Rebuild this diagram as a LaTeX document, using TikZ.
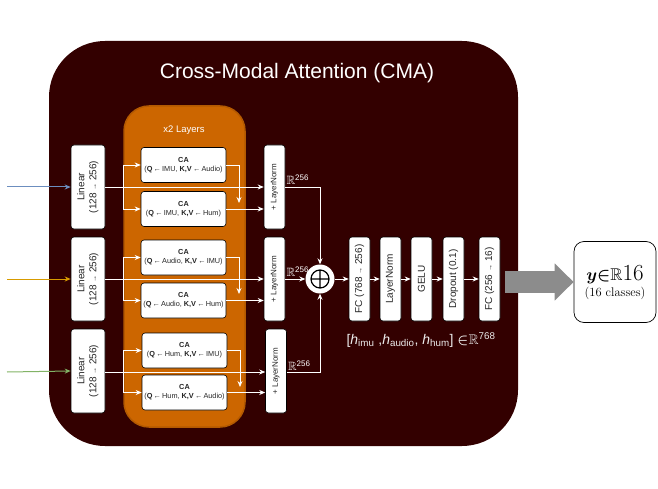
\documentclass[tikz,border=0pt]{standalone}
\usepackage{amsfonts,amssymb,amsmath}
\usepackage{xcolor}
\usepackage{fontspec}
\setsansfont{Liberation Sans}
\usepackage{tikz}
\usetikzlibrary{arrows.meta}
\definecolor{cmabg}{HTML}{330000}
\definecolor{layerfill}{HTML}{CC6600}
\definecolor{layerline}{HTML}{B35900}
\definecolor{imucol}{HTML}{6C8EBF}
\definecolor{audiocol}{HTML}{D79B00}
\definecolor{humcol}{HTML}{82B366}
\definecolor{boxtxt}{HTML}{262626}
\definecolor{arrowgray}{HTML}{8C8C8C}

\begin{document}
\begin{tikzpicture}[x=1pt,y=-1pt,font=\sffamily,>={Stealth[length=6pt,width=5pt]},
  blk/.style={draw=black,fill=white,rounded corners=3pt,text=boxtxt,inner sep=0pt,line width=0.6pt},
  linbox/.style={blk,minimum width=34pt,minimum height=84pt,font=\sffamily\fontsize{10}{12}\selectfont},
  lnbox/.style={blk,minimum width=21pt,minimum height=84pt,font=\sffamily\fontsize{8}{9}\selectfont},
  mlpbox/.style={blk,minimum width=21pt,minimum height=84pt,font=\sffamily\fontsize{10}{12}\selectfont},
  cabox/.style={blk,minimum width=85pt,minimum height=35pt,align=center,font=\sffamily\fontsize{7.3}{9}\selectfont},
  flow/.style={white,line width=0.8pt},
  rlbl/.style={text=white,inner sep=1pt,font=\sffamily\fontsize{12}{13}\selectfont}]
\useasboundingbox(0,0)rectangle(658,489);
% background blocks
\node[fill=cmabg,rounded corners=56pt,minimum width=469pt,minimum height=405pt](cma)at(283.5,243.5){};
\node[text=white,font=\sffamily\fontsize{21}{24}\selectfont](title)at(297,73){Cross-Modal Attention (CMA)};
\node[fill=layerfill,draw=layerline,line width=1.5pt,rounded corners=25pt,minimum width=121pt,minimum height=321pt](layers)at(184.5,266.5){};
\node[text=white,font=\sffamily\fontsize{9.5}{11}\selectfont](xtwo)at(184,130){x2 Layers};
% linear projections
\node[linbox](lin1)at(88,187){\rotatebox{90}{\begin{tabular}{@{}c@{}}Linear\\(128 {\scriptsize →} 256)\end{tabular}}};
\node[linbox](lin2)at(88,279){\rotatebox{90}{\begin{tabular}{@{}c@{}}Linear\\(128 {\scriptsize →} 256)\end{tabular}}};
\node[linbox](lin3)at(88,371){\rotatebox{90}{\begin{tabular}{@{}c@{}}Linear\\(128 {\scriptsize →} 256)\end{tabular}}};
% cross attention blocks
\node[cabox](ca1)at(183.5,165){\textbf{CA}\\(\textbf{Q}\,←\,IMU, \textbf{K,V}\,←\,Audio)};
\node[cabox](ca2)at(183.5,209){\textbf{CA}\\(\textbf{Q}\,←\,IMU, \textbf{K,V}\,←\,Hum)};
\node[cabox](ca3)at(183.5,257.5){\textbf{CA}\\(\textbf{Q}\,←\,Audio, \textbf{K,V}\,←\,IMU)};
\node[cabox](ca4)at(183.5,300.5){\textbf{CA}\\(\textbf{Q}\,←\,Audio, \textbf{K,V}\,←\,Hum)};
\node[cabox](ca5)at(184.5,350.5){\textbf{CA}\\(\textbf{Q}\,←\,Hum, \textbf{K,V}\,←\,IMU)};
\node[cabox](ca6)at(184.5,392.5){\textbf{CA}\\(\textbf{Q}\,←\,Hum, \textbf{K,V}\,←\,Audio)};
% residual + norm
\node[lnbox](ln1)at(274.5,187){\rotatebox{90}{+ LayerNorm}};
\node[lnbox](ln2)at(274.5,279){\rotatebox{90}{+ LayerNorm}};
\node[lnbox](ln3)at(276,371){\rotatebox{90}{+ LayerNorm}};
\node[circle,fill=white,minimum size=29pt,inner sep=0pt](sum)at(320,279){};
\draw[line width=1.2pt](sum.center)circle(9pt) ++(-9,0)--++(18,0) (sum.center)++(0,-9)--++(0,18);
% classifier head
\node[mlpbox](fc1)at(359.5,279){\rotatebox{90}{FC (768 {\scriptsize →} 256)}};
\node[mlpbox](norm)at(390.5,279){\rotatebox{90}{LayerNorm}};
\node[mlpbox](gelu)at(421.5,279){\rotatebox{90}{GELU}};
\node[mlpbox](drop)at(453.5,279){\rotatebox{90}{Dropout (0.1)}};
\node[mlpbox](fc2)at(489.5,279){\rotatebox{90}{FC (256 {\scriptsize →} 16)}};
\node[text=white!85!gray,font=\sffamily\fontsize{14}{16}\selectfont](concat)at(421,340){[\textit{h}\textsubscript{imu} ,\textit{h}\textsubscript{audio}, \textit{h}\textsubscript{hum}] ${\boldsymbol{\in}}\mathbb{R}$\textsuperscript{768}};
\node[draw=black,fill=white,rounded corners=10pt,line width=0.7pt,minimum width=82pt,minimum height=81pt,align=center,font=\rmfamily\fontsize{12.5}{14}\selectfont](out)at(615,282){{\fontsize{17}{19}\selectfont$\boldsymbol{y}{\boldsymbol{\in}}\mathbb{R}$}{\fontsize{23}{24}\selectfont 16}\\[2pt](16 classes)};
% inputs
\coordinate(in1)at(7,187);
\coordinate(in2)at(7,279);
\coordinate(in3)at(7,372);
\draw[->,imucol,line width=1pt](in1)--(lin1.west);
\draw[->,audiocol,line width=1pt](in2)--(lin2.west);
\draw[->,humcol,line width=1pt](in3)--(lin3.west);
% row connectors
\coordinate(br1)at(123,187);
\coordinate(br2)at(123,279);
\coordinate(br3)at(123,372);
\coordinate(dn1)at(239,203);
\coordinate(dn2)at(239,294);
\coordinate(dn3)at(240,387);
\draw[->,flow](lin1.east)--(ln1.west);
\draw[->,flow](lin2.east)--(ln2.west);
\draw[->,flow](lin3.east|-in3)--(ln3.west|-in3);
\draw[flow](br1|-ca1)--(br1|-ca2);
\draw[flow](br2|-ca3)--(br2|-ca4);
\draw[flow](br3|-ca5)--(br3|-ca6);
\draw[->,flow](br1|-ca1)--(ca1.west);
\draw[->,flow](br1|-ca2)--(ca2.west);
\draw[->,flow](br2|-ca3)--(ca3.west);
\draw[->,flow](br2|-ca4)--(ca4.west);
\draw[->,flow](br3|-ca5)--(ca5.west);
\draw[->,flow](br3|-ca6)--(ca6.west);
\draw[->,flow](ca1.east)-|(dn1);
\draw[->,flow](ca3.east)-|(dn2);
\draw[->,flow](ca5.east)-|(dn3);
\draw[->,flow](ca2.east)--(ca2.east-|ln1.west);
\draw[->,flow](ca4.east)--(ca4.east-|ln2.west);
\draw[->,flow](ca6.east)--(ca6.east-|ln3.west);
% fusion
\draw[->,flow](ln1.east)-|(sum.north);
\draw[->,flow](ln2.east)--(sum.west);
\draw[->,flow](ln3.east|-in3)-|(sum.south);
\node[rlbl,anchor=south west](r1)at([yshift=1pt]ln1.east){$\mathbb{R}$\textsuperscript{256}};
\node[rlbl,anchor=south west](r2)at([yshift=1pt]ln2.east){$\mathbb{R}$\textsuperscript{256}};
\node[rlbl,anchor=south west](r3)at([yshift=-1pt]ln3.east){$\mathbb{R}$\textsuperscript{256}};
\draw[->,flow](sum.east)--(fc1.west);
\draw[->,flow](fc1)--(norm);
\draw[->,flow](norm)--(gelu);
\draw[->,flow](gelu)--(drop);
\draw[->,flow](drop)--(fc2);
% output arrow
\coordinate(gst)at([xshift=5pt]fc2.east);
\draw[arrowgray,line width=22pt,-{Triangle[length=19pt,width=36pt]}](gst|-out.west)--(out.west);
\end{tikzpicture}
\end{document}
